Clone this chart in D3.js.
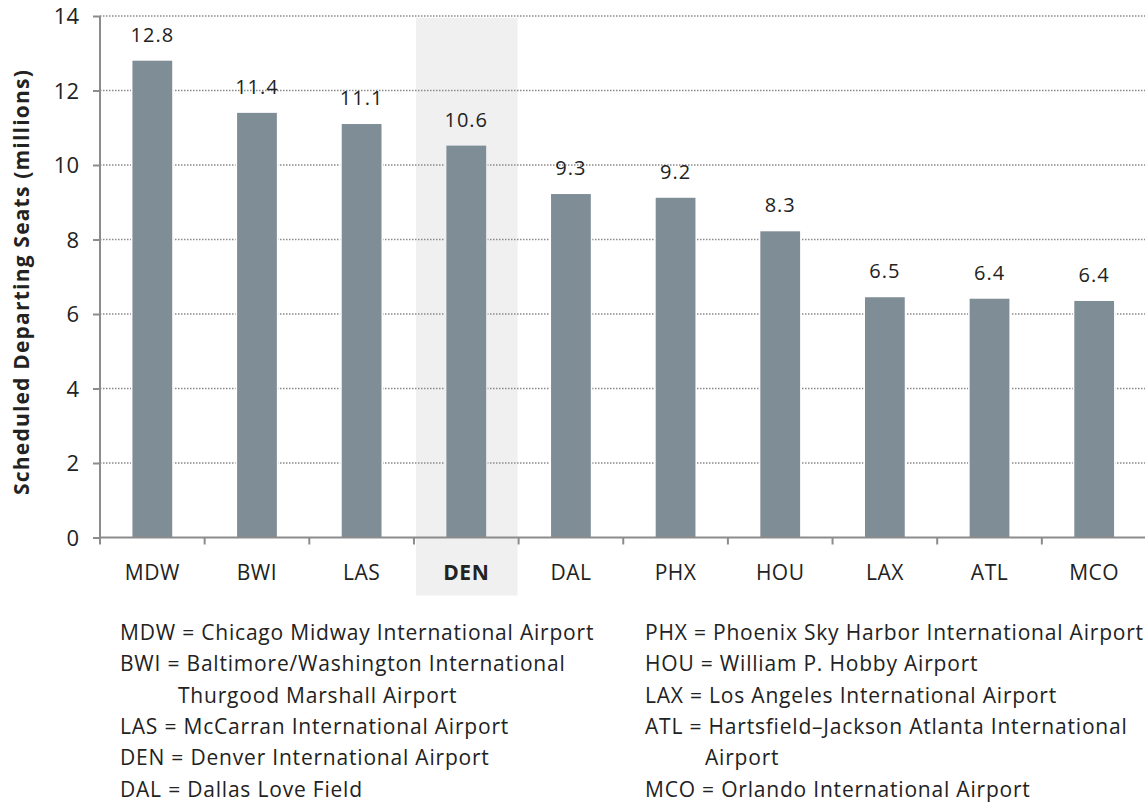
<!DOCTYPE html>
<html>
<head>
<meta charset="utf-8">
<script src="https://cdn.jsdelivr.net/npm/d3@7"></script>
<style>
  body { margin: 0; background: #fff; }
  svg { display: block; }
  text { fill: #222; font-family: 'Open Sans', sans-serif; }
</style>
</head>
<body>
<svg></svg>
<script>
// airport codes along the x axis
var airports = ["MDW", "BWI", "LAS", "DEN", "DAL", "PHX", "HOU", "LAX", "ATL", "MCO"];
// scheduled departing seats (millions)
var seats = [12.8, 11.4, 11.1, 10.52, 9.22, 9.12, 8.22, 6.45, 6.41, 6.35];
// value labels as printed above the bars
var seatLabels = ["12.8", "11.4", "11.1", "10.6", "9.3", "9.2", "8.3", "6.5", "6.4", "6.4"];
var yTicks = [0, 2, 4, 6, 8, 10, 12, 14];
var highlight = "DEN";

// legend entries, continuation lines in the inner arrays
var legendLeft = [
  ["MDW = Chicago Midway International Airport"],
  ["BWI = Baltimore/Washington International", "Thurgood Marshall Airport"],
  ["LAS = McCarran International Airport"],
  ["DEN = Denver International Airport"],
  ["DAL = Dallas Love Field"]
];
var legendRight = [
  ["PHX = Phoenix Sky Harbor International Airport"],
  ["HOU = William P. Hobby Airport"],
  ["LAX = Los Angeles International Airport"],
  ["ATL = Hartsfield\u2013Jackson Atlanta International", "Airport"],
  ["MCO = Orlando International Airport"]
];

var width = 1145, height = 805;
var margin = { top: 16, left: 100, right: -1.5, bottom: 267.5 };
var plotW = width - margin.left - margin.right;
var plotH = height - margin.top - margin.bottom;

var svg = d3.select("svg")
    .attr("width", width)
    .attr("height", height);

var xscale = d3.scaleBand()
    .domain(airports)
    .range([0, plotW])
    .paddingInner(0.62)
    .paddingOuter(0.31);
var step = xscale.step();

var yscale = d3.scaleLinear().domain([0, 14]).range([plotH, 0]);

var graph = svg.append("g")
    .attr("transform", "translate(" + margin.left + "," + margin.top + ")");

// highlight band behind DEN
graph.append("rect")
    .attr("x", xscale(highlight) - step * 0.31 + 2)
    .attr("y", 2)
    .attr("width", step - 3)
    .attr("height", plotH + 56)
    .attr("fill", "#f0f0f0");

// dotted grid lines
graph.append("g")
  .selectAll("line")
  .data(yTicks.filter(function(d) { return d > 0; }))
  .join("line")
    .attr("x1", 0)
    .attr("x2", plotW)
    .attr("y1", function(d) { return yscale(d); })
    .attr("y2", function(d) { return yscale(d); })
    .attr("stroke", "#8a8a8a")
    .attr("stroke-width", 1.6)
    .attr("stroke-dasharray", "1.5,1.5");

// bars, with a thin halo that cuts the grid lines
graph.append("g")
  .selectAll("rect")
  .data(seats)
  .join("rect")
    .attr("x", function(d, i) { return xscale(airports[i]) - 1.5; })
    .attr("y", function(d) { return yscale(d) - 1.5; })
    .attr("width", xscale.bandwidth() + 3)
    .attr("height", function(d) { return plotH - yscale(d) + 1.5; })
    .attr("fill", function(d, i) { return airports[i] === highlight ? "#f0f0f0" : "#fff"; });

graph.append("g")
  .selectAll("rect")
  .data(seats)
  .join("rect")
    .attr("x", function(d, i) { return xscale(airports[i]); })
    .attr("y", function(d) { return yscale(d); })
    .attr("width", xscale.bandwidth())
    .attr("height", function(d) { return plotH - yscale(d); })
    .attr("fill", "#7f8d96");

// value labels
graph.append("g")
  .selectAll("text")
  .data(seats)
  .join("text")
    .attr("x", function(d, i) { return xscale(airports[i]) + xscale.bandwidth() / 2; })
    .attr("y", function(d) { return yscale(d) - 19; })
    .attr("text-anchor", "middle")
    .style("font-size", "20px")
    .style("letter-spacing", "1px")
    .text(function(d, i) { return seatLabels[i]; });

// y axis
var yaxis = d3.axisLeft(yscale).tickValues(yTicks).tickSize(7).tickPadding(14);
var yg = graph.append("g").call(yaxis);
yg.selectAll("path, line").attr("stroke", "#8c8c8c").attr("stroke-width", 2);
yg.select(".domain").attr("d", "M0," + plotH + "V0");
yg.selectAll("text")
    .attr("dy", "0.36em")
    .style("font-family", "'Open Sans', sans-serif")
    .style("font-size", "22px")
    .style("fill", "#222");

// x axis: ticks between categories
var bounds = d3.range(airports.length + 1).map(function(i) { return i * step; });
var xg = graph.append("g").attr("transform", "translate(0," + plotH + ")");
xg.append("line")
    .attr("x1", 0).attr("x2", plotW)
    .attr("stroke", "#8c8c8c").attr("stroke-width", 2);
xg.selectAll("line.tick")
  .data(bounds)
  .join("line")
    .attr("class", "tick")
    .attr("x1", function(d) { return d; })
    .attr("x2", function(d) { return d; })
    .attr("y1", 0).attr("y2", 7)
    .attr("stroke", "#8c8c8c").attr("stroke-width", 2);
xg.selectAll("text")
  .data(airports)
  .join("text")
    .attr("x", function(d) { return xscale(d) + xscale.bandwidth() / 2; })
    .attr("y", 42)
    .attr("text-anchor", "middle")
    .style("font-size", "21px")
    .style("letter-spacing", "0.5px")
    .style("font-weight", function(d) { return d === highlight ? "bold" : "normal"; })
    .text(function(d) { return d; });

// y axis title
svg.append("text")
    .attr("transform", "translate(29,282) rotate(-90)")
    .attr("text-anchor", "middle")
    .style("font-size", "21px")
    .style("font-weight", "bold")
    .style("letter-spacing", "1.2px")
    .text("Scheduled Departing Seats (millions)");

// legend
function drawLegend(entries, x0, indent) {
  var row = 0;
  var g = svg.append("g");
  entries.forEach(function(lines) {
    lines.forEach(function(line, j) {
      g.append("text")
          .attr("x", j === 0 ? x0 : x0 + indent)
          .attr("y", 640 + row * 31.3)
          .style("font-size", "21px")
          .style("letter-spacing", "0.8px")
          .text(line);
      row++;
    });
  });
}
drawLegend(legendLeft, 120, 58);
drawLegend(legendRight, 645, 60);
</script>
</body>
</html>
